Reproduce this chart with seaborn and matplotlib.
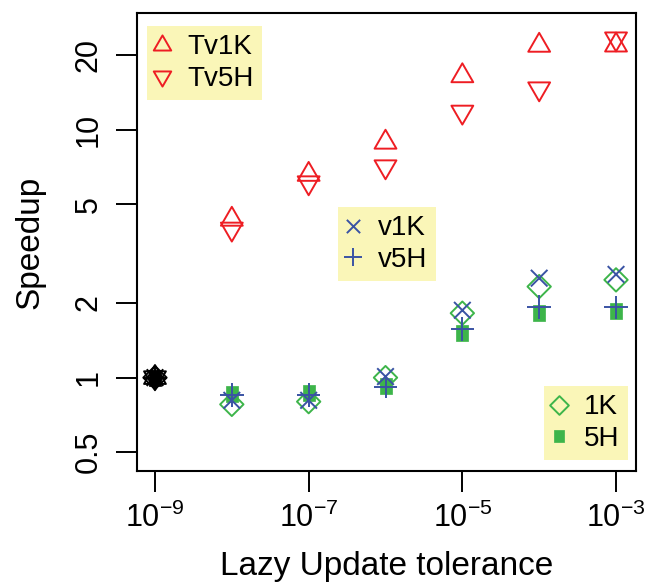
import numpy as np
import pandas as pd
import matplotlib
matplotlib.use("Agg")
import matplotlib.pyplot as plt
import seaborn as sns
from matplotlib.path import Path
from matplotlib.markers import MarkerStyle
from matplotlib.lines import Line2D

# ---------------- data ----------------
tolerance = [1e-9, 1e-8, 1e-7, 1e-6, 1e-5, 1e-4, 1e-3]
Tv1K = [1.0, 4.35, 6.6, 8.9, 16.5, 21.9, 21.95]
Tv5H = [1.0, 3.98, 6.12, 7.1, 11.8, 14.65, 23.3]
v1K = [1.0, 0.81, 0.81, 1.01, 1.87, 2.52, 2.61]
v5H = [1.0, 0.85, 0.85, 0.92, 1.57, 1.93, 1.92]
K1 = [1.0, 0.78, 0.80, 1.0, 1.82, 2.33, 2.48]
H5 = [1.0, 0.86, 0.87, 0.925, 1.51, 1.83, 1.86]
series_names = ["5H", "1K", "v1K", "v5H", "Tv5H", "Tv1K"]
series_vals = [H5, K1, v1K, v5H, Tv5H, Tv1K]
xticks = [1e-9, 1e-7, 1e-5, 1e-3]
yticks = [0.5, 1, 2, 5, 10, 20]
ytick_labels = ["0.5", "1", "2", "5", "10", "20"]

# ---------------- style ----------------
sns.set_style("white")
plt.rcParams["font.family"] = ["Liberation Sans", "DejaVu Sans"]
plt.rcParams["mathtext.fontset"] = "custom"
plt.rcParams["mathtext.rm"] = "Liberation Sans"
plt.rcParams["mathtext.it"] = "Liberation Sans:italic"
plt.rcParams["mathtext.bf"] = "Liberation Sans:bold"
for k in ["text.color", "axes.labelcolor", "xtick.color", "ytick.color",
          "axes.edgecolor"]:
    plt.rcParams[k] = "black"

DPI = 100
RED = "#EE1D23"
BLUE = "#3A53A4"
GREEN = "#3DB54A"
LEGBG = "#FAF6B8"
LW = 1.4

def P(verts, codes=None):
    return Path(np.array(verts, float), codes)

tri_up = P([(0, 1.555), (1.347, -0.778), (-1.347, -0.778), (0, 1.555)],
           [Path.MOVETO, Path.LINETO, Path.LINETO, Path.CLOSEPOLY])
tri_dn = P([(0, -1.555), (1.347, 0.778), (-1.347, 0.778), (0, -1.555)],
           [Path.MOVETO, Path.LINETO, Path.LINETO, Path.CLOSEPOLY])
xpath = P([(-1, -1), (1, 1), (-1, 1), (1, -1)],
          [Path.MOVETO, Path.LINETO, Path.MOVETO, Path.LINETO])
ppath = P([(-1, 0), (1, 0), (0, -1), (0, 1)],
          [Path.MOVETO, Path.LINETO, Path.MOVETO, Path.LINETO])
dpath = P([(0, 1), (1, 0), (0, -1), (-1, 0), (0, 1)],
          [Path.MOVETO, Path.LINETO, Path.LINETO, Path.LINETO, Path.CLOSEPOLY])
spath = P([(-0.8, -1), (0.8, -1), (0.8, 1), (-0.8, 1), (-0.8, -1)],
          [Path.MOVETO, Path.LINETO, Path.LINETO, Path.LINETO, Path.CLOSEPOLY])

# name -> (path, max extent in px, color, filled)
spec = {
    "Tv1K": (tri_up, 12.6, RED, False),
    "Tv5H": (tri_dn, 12.6, RED, False),
    "v1K": (xpath, 8.3, BLUE, False),
    "v5H": (ppath, 11.7, BLUE, False),
    "1K": (dpath, 11.7, GREEN, False),
    "5H": (spath, 7.9, GREEN, True),
}

def msize(ext_px):
    return 2 * ext_px * 72.0 / DPI

fig = plt.figure(figsize=(6.5, 5.84), dpi=DPI)
ax = fig.add_axes([137 / 650, 1 - 471 / 584, 499 / 650, 458 / 584])
ax.set_xscale("log")
ax.set_yscale("log")

rows = []
for name, vals in zip(series_names, series_vals):
    for t, v in zip(tolerance, vals):
        rows.append({"series": name, "tol": t, "speedup": v})
df = pd.DataFrame(rows)

def draw(sub, name, color, z):
    path, ext, _, filled = spec[name]
    ms = msize(ext)
    if filled:
        m = MarkerStyle(path)
        sns.scatterplot(data=sub, x="tol", y="speedup", marker=m, s=ms ** 2,
                        color=color, edgecolor=color, linewidth=0.5, ax=ax,
                        zorder=z, legend=False)
    else:
        m = MarkerStyle(path, fillstyle="none")
        sns.scatterplot(data=sub, x="tol", y="speedup", marker=m, s=ms ** 2,
                        color=color, linewidth=LW, ax=ax, zorder=z, legend=False)

base = df["tol"] == tolerance[0]
for i, name in enumerate(series_names):
    sub = df[(df["series"] == name) & ~base]
    draw(sub, name, spec[name][2], 3 + i)
for i, name in enumerate(series_names):
    sub = df[(df["series"] == name) & base]
    draw(sub, name, "black", 10 + i)

ax.set_xlim(10 ** -9.234, 10 ** -2.74)
ax.set_ylim(0.42, 29.6)
ax.set_xticks(xticks)
ax.xaxis.set_minor_locator(matplotlib.ticker.NullLocator())
ax.yaxis.set_minor_locator(matplotlib.ticker.NullLocator())
ax.set_yticks(yticks)
ax.set_yticklabels(ytick_labels, rotation=90, va="center")
ax.tick_params(which="major", direction="out", length=15, width=1.4,
               labelsize=22, pad=8, colors="black", left=True, bottom=True)
ax.tick_params(axis="y", pad=9)
for sp in ax.spines.values():
    sp.set_visible(True)
    sp.set_color("black")
    sp.set_linewidth(1.5)
ax.set_xlabel("Lazy Update tolerance", fontsize=24, labelpad=12, color="black")
ax.set_ylabel("Speedup", fontsize=24, labelpad=20, color="black")
ax.grid(False)

def handle(name, label):
    path, ext, color, filled = spec[name]
    if filled:
        m = MarkerStyle(path)
        return Line2D([], [], linestyle="none", marker=m, markersize=msize(ext),
                      markerfacecolor=color, markeredgecolor=color,
                      markeredgewidth=0.5, label=label)
    m = MarkerStyle(path, fillstyle="none")
    return Line2D([], [], linestyle="none", marker=m, markersize=msize(ext),
                  markeredgecolor=color, markeredgewidth=LW, color=color,
                  label=label)

def add_legend(names, labels, x_px, y_px):
    hs = [handle(n, l) for n, l in zip(names, labels)]
    bx = (x_px - 137) / 499
    by = (471 - y_px) / 458
    leg = ax.legend(handles=hs, loc="upper left", bbox_to_anchor=(bx, by),
                    frameon=True, fancybox=False, framealpha=1, fontsize=20,
                    borderpad=0.3, handlelength=0.5, handletextpad=0.65,
                    labelspacing=0.2, borderaxespad=0, markerscale=0.8)
    for t in leg.get_texts():
        t.set_color("black")
    fr = leg.get_frame()
    fr.set_facecolor(LEGBG)
    fr.set_edgecolor("none")
    fr.set_linewidth(0)
    leg.set_zorder(2)
    ax.add_artist(leg)
    return leg

add_legend(["Tv1K", "Tv5H"], ["Tv1K", "Tv5H"], 147, 26)
add_legend(["v1K", "v5H"], ["v1K", "v5H"], 338, 207)
add_legend(["1K", "5H"], ["1K", "5H"], 544, 386)

fig.savefig("out.png", dpi=DPI)
